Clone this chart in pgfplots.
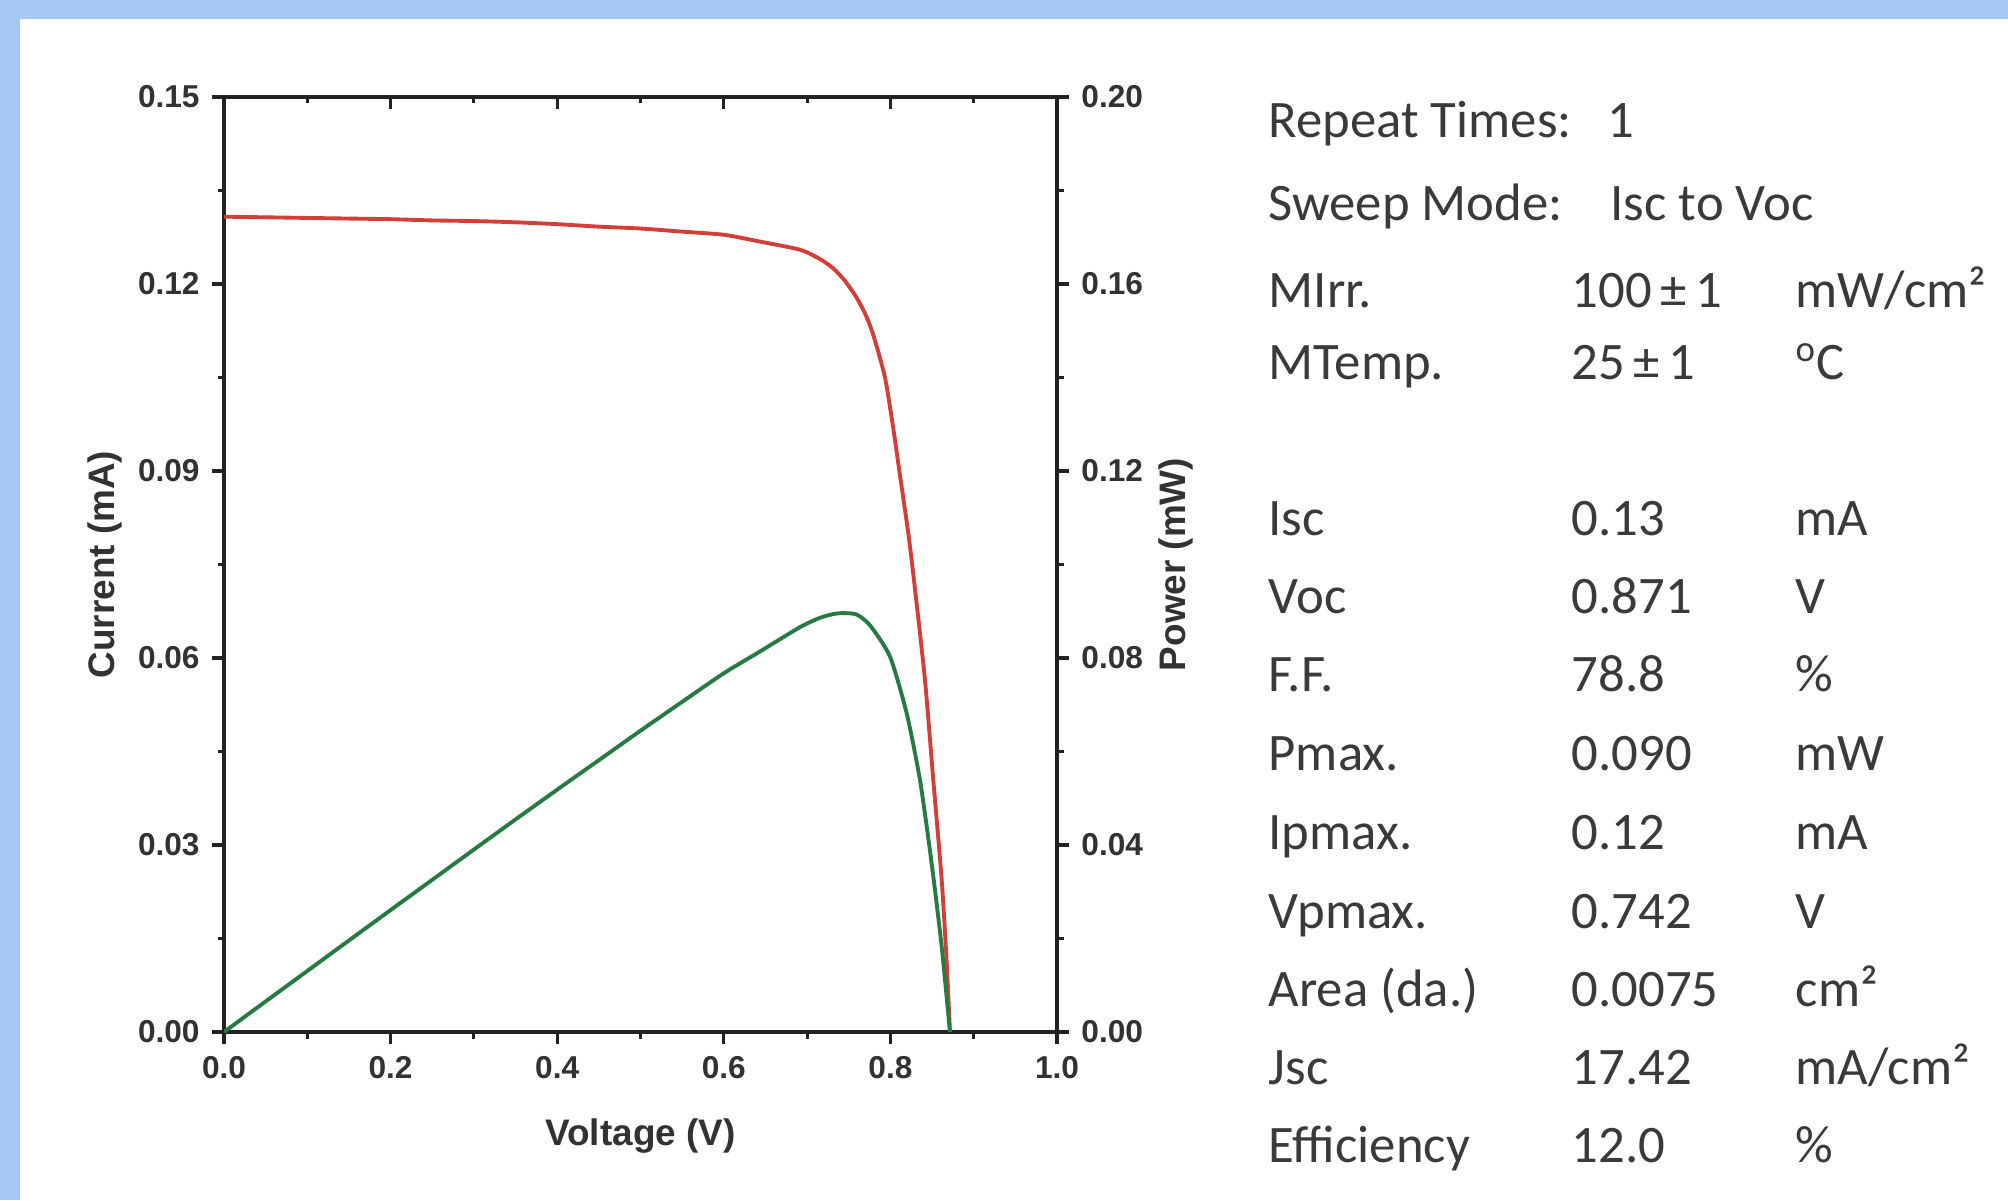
\documentclass[border=0pt]{standalone}
\usepackage{pgfplots}
\pgfplotsset{compat=1.18}
\usepackage{fontspec}
\setmainfont{Liberation Sans}
\newfontfamily\panelfont{Carlito}

\definecolor{bluebg}{RGB}{164,200,242}
\definecolor{ivred}{RGB}{210,62,56}
\definecolor{pwgreen}{RGB}{38,122,66}
\definecolor{axgray}{RGB}{34,34,34}
\definecolor{txtgray}{RGB}{50,50,50}
\definecolor{pantext}{RGB}{58,58,58}

% I-V curve (V, mA)
\pgfplotstableread{
V I
0.00 0.1308
0.05 0.1307
0.10 0.1306
0.15 0.1305
0.20 0.1304
0.25 0.1302
0.30 0.1301
0.35 0.1299
0.40 0.1296
0.45 0.1292
0.50 0.1289
0.55 0.1284
0.60 0.1279
0.6435 0.1268
0.6915 0.1255
0.7155 0.1240
0.7315 0.1225
0.7455 0.1205
0.7595 0.1178
0.7705 0.1150
0.7795 0.1118
0.7935 0.1050
0.8035 0.0968
0.8115 0.0893
0.8215 0.0800
0.8283 0.0725
0.8415 0.0565
0.8515 0.0404
0.8616 0.0244
0.8676 0.0111
0.8715 0.0000
}\ivdata

% P-V curve (V, mW)
\pgfplotstableread{
V P
0.00 0.0000
0.05 0.00654
0.10 0.01306
0.15 0.01958
0.20 0.02608
0.25 0.03255
0.30 0.03903
0.35 0.04547
0.40 0.05184
0.45 0.05814
0.50 0.06445
0.55 0.07062
0.60 0.07674
0.6435 0.0814
0.6915 0.0866
0.7155 0.0886
0.7315 0.0894
0.7435 0.0896
0.7595 0.0893
0.7755 0.0870
0.7995 0.0803
0.8195 0.0682
0.8355 0.0539
0.8495 0.0361
0.8616 0.0182
0.8715 0.0000
}\pvdata

\pgfplotsset{
  ivbase/.style={
    at={(2.24cm,1.68cm)}, anchor=south west,
    scale only axis, width=8.33cm, height=9.35cm,
    xmin=0, xmax=1,
    axis line style={line width=0.9pt, axgray},
    every tick/.style={line width=0.9pt, axgray},
    major tick length=0.12cm, minor tick length=0.065cm,
    /pgf/number format/assume math mode=true,
    ticklabel style={font=\fontsize{9}{10}\selectfont\bfseries, text=txtgray},
    label style={font=\fontsize{10.5}{12}\selectfont\bfseries, text=txtgray},
    scaled ticks=false,
  },
}

\begin{document}
\begin{tikzpicture}[x=1cm,y=1cm]
\useasboundingbox (0,0) rectangle (20.08,12);
\fill[white] (0,0) rectangle (20.08,12);
\fill[bluebg] (0,0) rectangle (0.195,12);
\fill[bluebg] (0,11.81) rectangle (20.08,12);

% left / bottom axis: current
\begin{axis}[ivbase,
  axis x line*=bottom, axis y line*=left,
  ymin=0, ymax=0.15,
  tick align=outside,
  xtick={0,0.2,0.4,0.6,0.8,1},
  xticklabels={0.0,0.2,0.4,0.6,0.8,1.0},
  minor xtick={0.1,0.3,0.5,0.7,0.9},
  ytick={0,0.03,0.06,0.09,0.12,0.15},
  yticklabels={0.00,0.03,0.06,0.09,0.12,0.15},
  minor ytick={0.015,0.045,0.075,0.105,0.135},
  xlabel={Voltage (V)},
  ylabel={Current (mA)},
  xlabel style={at={(axis description cs:0.5,-0.1112)}, anchor=center},
  ylabel style={at={(axis description cs:-0.1429,0.5)}, anchor=center, rotate=0},
]
\addplot[ivred, line width=1.1pt, smooth, tension=0.4] table[x=V, y=I] {\ivdata};
\end{axis}

% right axis: power
\begin{axis}[ivbase,
  axis y line*=right, axis x line=none,
  ymin=0, ymax=0.20,
  tick align=outside,
  ytick={0,0.04,0.08,0.12,0.16,0.20},
  yticklabels={0.00,0.04,0.08,0.12,0.16,0.20},
  minor ytick={0.02,0.06,0.10,0.14,0.18},
  ylabel={Power (mW)},
  ylabel style={at={(axis description cs:1.1429,0.5)}, anchor=center, rotate=0},
]
\addplot[pwgreen, line width=1.1pt, smooth, tension=0.4] table[x=V, y=P] {\pvdata};
\end{axis}

% top axis: inward ticks only
\begin{axis}[ivbase,
  axis x line*=top, axis y line=none,
  ymin=0, ymax=1,
  tick align=inside,
  xtick={0,0.2,0.4,0.6,0.8,1},
  xticklabels={},
  minor xtick={0.1,0.3,0.5,0.7,0.9},
]
\end{axis}

% measurement summary panel
\begin{scope}[every node/.style={anchor=base west, inner sep=0pt,
    font=\panelfont\fontsize{15}{18}\selectfont, text=pantext}]
\node at (12.68,10.62) {Repeat Times:};
\node at (16.07,10.62) {1};
\node at (12.68,9.79) {Sweep Mode:};
\node at (16.10,9.79) {Isc to Voc};
\node at (12.68,8.92) {MIrr.};
\node at (15.71,8.92) {100\,±\,1};
\node at (17.95,8.92) {mW/cm²};
\node at (12.68,8.20) {MTemp.};
\node at (15.71,8.20) {25\,±\,1};
\node at (17.95,8.20) {\textsuperscript{o}C};
\node at (12.68,6.64) {Isc};
\node at (15.71,6.64) {0.13};
\node at (17.95,6.64) {mA};
\node at (12.68,5.86) {Voc};
\node at (15.71,5.86) {0.871};
\node at (17.95,5.86) {V};
\node at (12.68,5.08) {F.F.};
\node at (15.71,5.08) {78.8};
\node at (17.95,5.08) {\%};
\node at (12.68,4.30) {Pmax.};
\node at (15.71,4.30) {0.090};
\node at (17.95,4.30) {mW};
\node at (12.68,3.50) {Ipmax.};
\node at (15.71,3.50) {0.12};
\node at (17.95,3.50) {mA};
\node at (12.68,2.72) {Vpmax.};
\node at (15.71,2.72) {0.742};
\node at (17.95,2.72) {V};
\node at (12.68,1.94) {Area (da.)};
\node at (15.71,1.94) {0.0075};
\node at (17.95,1.94) {cm²};
\node at (12.68,1.16) {Jsc};
\node at (15.71,1.16) {17.42};
\node at (17.95,1.16) {mA/cm²};
\node at (12.68,0.38) {Efficiency};
\node at (15.71,0.38) {12.0};
\node at (17.95,0.38) {\%};
\end{scope}
\end{tikzpicture}
\end{document}
